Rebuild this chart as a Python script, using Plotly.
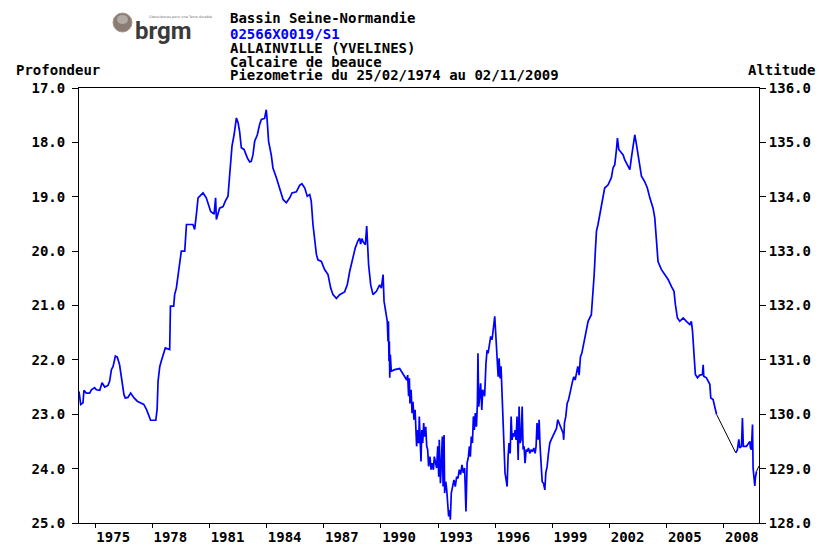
import plotly.graph_objects as go

# ---- data (decimal year, depth in m) ----
years = [
    1974.15, 1974.24, 1974.36, 1974.41, 1974.53, 1974.71, 1974.80, 1974.97, 1975.06, 1975.24,
    1975.36, 1975.50, 1975.67, 1975.76, 1975.85, 1975.94, 1976.06, 1976.16, 1976.28, 1976.41,
    1976.51, 1976.58, 1976.72, 1976.86, 1977.04, 1977.21, 1977.42, 1977.55, 1977.69, 1977.81,
    1977.91, 1978.18, 1978.25, 1978.30, 1978.39, 1978.47, 1978.60, 1978.68, 1978.91, 1978.95,
    1979.12, 1979.17, 1979.26, 1979.43, 1979.52, 1979.70, 1979.79, 1980.13, 1980.22, 1980.31,
    1980.40, 1980.66, 1980.83, 1981.06, 1981.24, 1981.32, 1981.36, 1981.53, 1981.71, 1981.83,
    1981.97, 1982.06, 1982.18, 1982.29, 1982.41, 1982.50, 1982.58, 1982.67, 1982.81, 1982.99,
    1983.11, 1983.19, 1983.28, 1983.37, 1983.51, 1983.63, 1983.72, 1983.89, 1983.98, 1984.03,
    1984.10, 1984.24, 1984.33, 1984.51, 1984.68, 1984.86, 1985.03, 1985.21, 1985.33, 1985.56,
    1985.73, 1985.85, 1986.00, 1986.13, 1986.26, 1986.34, 1986.43, 1986.61, 1986.69, 1986.87,
    1987.04, 1987.22, 1987.36, 1987.48, 1987.66, 1987.83, 1988.09, 1988.23, 1988.36, 1988.53,
    1988.65, 1988.79, 1988.88, 1988.93, 1989.00, 1989.06, 1989.18, 1989.25, 1989.32, 1989.35,
    1989.46, 1989.58, 1989.76, 1989.93, 1990.02, 1990.11, 1990.16, 1990.28, 1990.33, 1990.37,
    1990.39, 1990.42, 1990.44, 1990.46, 1990.49, 1990.54, 1990.72, 1990.98, 1991.16,
    1991.35, 1991.40, 1991.45, 1991.49, 1991.52, 1991.58, 1991.63, 1991.68, 1991.73, 1991.79,
    1991.84, 1991.87, 1991.93, 1991.98, 1992.01, 1992.07, 1992.10, 1992.14, 1992.19, 1992.24,
    1992.29, 1992.35, 1992.40, 1992.45, 1992.50, 1992.57, 1992.63, 1992.68, 1992.75, 1992.80,
    1992.85, 1992.92, 1992.98, 1993.03, 1993.06, 1993.12, 1993.17, 1993.22, 1993.26, 1993.31,
    1993.34, 1993.40, 1993.45, 1993.50, 1993.55, 1993.61, 1993.64, 1993.69, 1993.76, 1993.83,
    1993.90, 1993.97, 1994.04, 1994.11, 1994.18, 1994.25, 1994.32, 1994.39, 1994.46, 1994.52,
    1994.59, 1994.64, 1994.69, 1994.74, 1994.80, 1994.85, 1994.90, 1994.95, 1995.01, 1995.06,
    1995.09, 1995.13, 1995.18, 1995.23, 1995.29, 1995.34, 1995.39, 1995.44, 1995.51, 1995.57,
    1995.62, 1995.69, 1995.76, 1995.83, 1995.90, 1995.97,
    1996.04, 1996.09, 1996.15, 1996.20, 1996.25, 1996.30, 1996.36, 1996.41, 1996.46, 1996.51,
    1996.57, 1996.62, 1996.67, 1996.72, 1996.78, 1996.83, 1996.88, 1996.93, 1996.99, 1997.04,
    1997.09, 1997.14, 1997.20, 1997.25, 1997.30, 1997.35, 1997.41, 1997.46, 1997.51, 1997.56,
    1997.62, 1997.67, 1997.74, 1997.81, 1997.88, 1997.95, 1998.02, 1998.09, 1998.14, 1998.19,
    1998.25, 1998.30, 1998.35, 1998.40, 1998.46, 1998.53, 1998.60, 1998.65, 1998.72, 1998.79,
    1998.86, 1998.93, 1999.00, 1999.07, 1999.14, 1999.21, 1999.28, 1999.35, 1999.42, 1999.49,
    1999.56, 1999.59, 1999.63, 1999.70, 1999.77, 1999.84, 1999.91, 1999.98, 2000.05, 2000.12,
    2000.19, 2000.26, 2000.33, 2000.40, 2000.47, 2000.54, 2000.61, 2000.68, 2000.75, 2000.82,
    2000.87, 2001.04, 2001.13,
    2001.19, 2001.25, 2001.31, 2001.39, 2001.48, 2001.57, 2001.66, 2001.74, 2001.92, 2002.09,
    2002.18, 2002.27, 2002.36, 2002.41, 2002.48, 2002.59, 2002.71, 2002.79, 2002.88, 2002.97,
    2003.06, 2003.14, 2003.23, 2003.32, 2003.41, 2003.49, 2003.58, 2003.67, 2003.84, 2003.98,
    2004.11, 2004.28, 2004.37, 2004.46, 2004.54, 2004.72, 2004.89, 2005.07, 2005.24, 2005.38,
    2005.45, 2005.56, 2005.68, 2005.86, 2006.03, 2006.21, 2006.29, 2006.35, 2006.43, 2006.50,
    2006.61, 2006.73, 2006.87, 2006.91, 2006.94, 2007.08, 2007.26, 2007.31, 2007.43, 2007.52,
    2007.61, None,
    2008.62, 2008.71, 2008.78, 2008.83, 2008.92, 2008.97, 2009.02, 2009.18, 2009.36, 2009.39,
    2009.44, 2009.50, 2009.53, 2009.58, 2009.62, 2009.65, 2009.71,
]
depth = [
    22.58, 22.82, 22.79, 22.56, 22.61, 22.61, 22.55, 22.51, 22.55, 22.56,
    22.42, 22.50, 22.47, 22.39, 22.18, 22.12, 21.93, 21.95, 22.09, 22.39,
    22.64, 22.70, 22.69, 22.61, 22.70, 22.76, 22.79, 22.82, 22.91, 23.04,
    23.11, 23.11, 22.91, 22.39, 22.12, 22.02, 21.84, 21.78, 21.81, 21.01,
    21.01, 20.80, 20.68, 20.19, 20.00, 20.00, 19.51, 19.51, 19.60, 19.33,
    19.02, 18.93, 19.02, 19.27, 19.32, 19.02, 19.42, 19.21, 19.18, 19.08,
    18.99, 18.59, 18.07, 17.86, 17.55, 17.64, 17.80, 18.10, 18.13, 18.29,
    18.36, 18.35, 18.23, 17.98, 17.86, 17.67, 17.58, 17.56, 17.40, 17.61,
    17.98, 18.23, 18.47, 18.65, 18.84, 19.05, 19.11, 19.02, 18.93, 18.91,
    18.79, 18.76, 18.84, 18.99, 18.96, 19.08, 19.51, 20.06, 20.16, 20.19,
    20.34, 20.43, 20.68, 20.80, 20.87, 20.80, 20.75, 20.62, 20.37, 20.13,
    19.94, 19.81, 19.76, 19.87, 19.77, 19.83, 19.88, 19.54, 19.94, 20.25,
    20.62, 20.80, 20.74, 20.62, 20.68, 20.43, 20.92, 21.23, 21.29, 21.66,
    21.29, 22.02, 21.66, 22.33, 21.90, 22.21, 22.18, 22.16, 22.27,
    22.37, 22.28, 22.67, 22.34, 22.80, 22.55, 22.98, 22.77, 23.10, 22.92,
    23.23, 23.59, 23.29, 23.53, 23.04, 23.47, 23.87, 23.29, 23.53, 23.16,
    23.41, 23.23, 23.59, 23.65, 23.96, 23.78, 24.02, 23.90, 24.02, 23.78,
    23.90, 23.99, 23.59, 24.15, 23.47, 24.27, 23.90, 23.41, 24.33, 23.38,
    24.45, 24.24, 24.39, 24.63, 24.88, 24.76, 24.94, 24.45, 24.33, 24.21,
    24.33, 24.15, 24.18, 24.02, 24.11, 23.93, 24.08, 23.99, 24.79, 23.90,
    23.78, 23.59, 23.78, 23.41, 23.53, 23.04, 23.29, 22.98, 23.23, 22.80,
    21.88, 22.86, 22.67, 22.43, 22.92, 22.55, 22.61, 22.67, 22.06, 21.82,
    21.88, 21.69, 21.57, 21.63, 21.45, 21.20,
    21.63, 22.00, 22.31, 21.97, 22.34, 22.12, 22.67, 23.23, 23.72, 24.08,
    24.21, 24.33, 23.78, 23.53, 23.72, 23.04, 23.47, 23.35, 23.41, 23.29,
    23.47, 23.04, 23.84, 22.86, 23.53, 23.47, 22.86, 23.65, 23.59, 23.90,
    23.65, 23.69, 23.62, 23.72, 23.65, 23.69, 23.62, 23.72, 23.59, 23.16,
    23.47, 23.10, 23.59, 23.84, 24.24, 24.27, 24.39, 24.08, 23.96, 23.72,
    23.53, 23.47, 23.41, 23.35, 23.29, 23.26, 23.10, 23.16, 23.23, 23.26,
    23.35, 23.47, 23.16, 23.04, 22.80, 22.74, 22.61, 22.55, 22.40, 22.31,
    22.37, 22.25, 22.12, 22.28, 21.94, 21.88, 21.75, 21.63, 21.51, 21.39,
    21.29, 21.17, 20.80,
    20.43, 20.00, 19.63, 19.51, 19.33, 19.21, 18.96, 18.84, 18.78, 18.65,
    18.47, 18.41, 18.13, 17.92, 18.13, 18.19, 18.23, 18.32, 18.38, 18.44,
    18.50, 18.29, 18.10, 17.86, 18.04, 18.23, 18.47, 18.62, 18.72, 18.84,
    19.02, 19.21, 19.39, 19.76, 20.19, 20.34, 20.43, 20.52, 20.65, 20.74,
    20.98, 21.23, 21.29, 21.23, 21.29, 21.35, 21.29, 21.47, 21.90, 22.27,
    22.33, 22.28, 22.27, 22.09, 22.30, 22.33, 22.45, 22.70, 22.73, 22.88,
    23.00, None,
    23.71, 23.65, 23.46, 23.62, 23.59, 23.07, 23.59, 23.59, 23.50, 23.62,
    23.65, 23.19, 23.99, 24.23, 24.32, 24.17, 24.05,
]
# interpolated (gap) segments, drawn in black
gap_years = [2007.61, 2008.62, None, 2009.71, 2009.84]
gap_depth = [23.00, 23.71, None, 24.05, 23.95]

tick_years = [1975, 1978, 1981, 1984, 1987, 1990, 1993, 1996, 1999, 2002, 2005, 2008]
depth_ticks = [17, 18, 19, 20, 21, 22, 23, 24, 25]
alt_ticks = [128, 129, 130, 131, 132, 133, 134, 135, 136]
x_start, x_end = 1974.15, 2009.84
ref_altitude = 153.0  # altitude = ref_altitude - depth

title_lines = ["Bassin Seine-Normandie", "02566X0019/S1", "ALLAINVILLE (YVELINES)",
               "Calcaire de beauce", "Piezometrie du 25/02/1974 au 02/11/2009"]
title_colors = ["black", "#0000ff", "black", "black", "black"]

FONT = "DejaVu Sans Mono"
FS = 14

fig = go.Figure()
fig.add_trace(go.Scatter(x=gap_years, y=gap_depth, mode="lines",
                         line=dict(color="black", width=1), hoverinfo="skip",
                         connectgaps=False, showlegend=False))
fig.add_trace(go.Scatter(x=years, y=depth, mode="lines",
                         line=dict(color="#0000ff", width=1.7),
                         connectgaps=False, showlegend=False))
# invisible trace so the altitude axis is drawn
fig.add_trace(go.Scatter(x=[x_start, x_end],
                         y=[ref_altitude - depth[0], ref_altitude - depth[-1]],
                         yaxis="y2", mode="lines", line=dict(width=0, color="rgba(0,0,0,0)"),
                         hoverinfo="skip", showlegend=False))

tickfont = dict(family=FONT, size=FS, color="black", weight="bold")
fig.update_layout(
    width=819, height=546,
    margin=dict(l=79, r=60, t=88, b=23),
    paper_bgcolor="white", plot_bgcolor="white",
    xaxis=dict(range=[x_start, x_end], tickvals=tick_years, ticktext=[str(y) for y in tick_years],
               showgrid=False, zeroline=False, showline=True, linecolor="black", linewidth=1,
               mirror=True, ticks="outside", ticklen=4, tickcolor="black",
               tickfont=tickfont, ticklabelshift=18, ticklabelstandoff=-3, automargin=False),
    yaxis=dict(range=[25, 17], tickvals=depth_ticks, tickformat=".1f",
               showgrid=False, zeroline=False, showline=True, linecolor="black", linewidth=1,
               ticks="outside", ticklen=6, tickcolor="black", tickfont=tickfont,
               ticklabelstandoff=4, automargin=False),
    yaxis2=dict(range=[128, 136], tickvals=alt_ticks, tickformat=".1f", overlaying="y",
                side="right", showgrid=False, zeroline=False, showline=True,
                linecolor="black", linewidth=1, ticks="outside", ticklen=6,
                tickcolor="black", tickfont=tickfont, automargin=False),
)

def px_x(px):
    return (px - 79) / 680.0

def px_y(py):
    return (523 - py) / 435.0

annos = []
for line, col, py in zip(title_lines, title_colors, [18, 34, 48, 62, 75]):
    annos.append(dict(text=line, x=px_x(228), y=px_y(py), xref="paper", yref="paper",
                      xanchor="left", yanchor="middle", showarrow=False,
                      font=dict(family=FONT, size=FS, color=col, weight="bold")))
annos.append(dict(text="Profondeur", x=px_x(14), y=px_y(70), xref="paper", yref="paper",
                  xanchor="left", yanchor="middle", showarrow=False,
                  font=dict(family=FONT, size=FS, color="black", weight="bold")))
annos.append(dict(text="Altitude", x=px_x(817), y=px_y(70), xref="paper", yref="paper",
                  xanchor="right", yanchor="middle", showarrow=False,
                  font=dict(family=FONT, size=FS, color="black", weight="bold")))
# logo
annos.append(dict(text="brgm", x=px_x(163), y=px_y(31), xref="paper", yref="paper",
                  xanchor="center", yanchor="middle", showarrow=False,
                  font=dict(family="Roboto", size=24, color="#3a3a3a", weight="bold")))
annos.append(dict(text="Géosciences pour une Terre durable", x=px_x(147), y=px_y(17),
                  xref="paper", yref="paper", xanchor="left", yanchor="middle",
                  showarrow=False, font=dict(family="DejaVu Sans", size=3.5, color="#777777")))
fig.update_layout(annotations=annos)

fig.add_shape(type="circle", xref="paper", yref="paper",
              x0=px_x(113), x1=px_x(132), y0=px_y(32), y1=px_y(13),
              fillcolor="#8c7d74", line=dict(color="#a49890", width=1))
fig.add_shape(type="circle", xref="paper", yref="paper",
              x0=px_x(117), x1=px_x(128), y0=px_y(24), y1=px_y(15),
              fillcolor="rgba(255,255,255,0.35)", line=dict(width=0))

fig.write_html("out.html", config={"displayModeBar": False},
               post_script="document.body.style.margin='0';")
